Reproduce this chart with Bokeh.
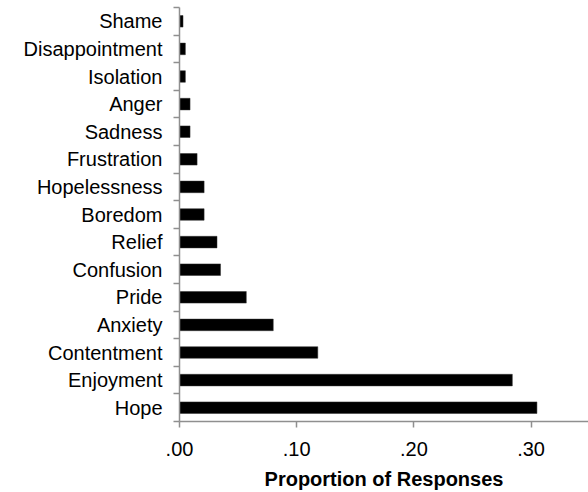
from bokeh.plotting import figure
from bokeh.models import ColumnDataSource, FixedTicker, CustomJSTickFormatter, Range1d
from bokeh.embed import file_html
from bokeh.resources import INLINE

# Data (bottom to top)
categories = ["Hope", "Enjoyment", "Contentment", "Anxiety", "Pride", "Confusion",
              "Relief", "Boredom", "Hopelessness", "Frustration", "Sadness", "Anger",
              "Isolation", "Disappointment", "Shame"]
values = [0.305, 0.284, 0.118, 0.080, 0.057, 0.035, 0.032, 0.021, 0.021, 0.015,
          0.009, 0.009, 0.005, 0.005, 0.003]
x_ticks = [0.0, 0.1, 0.2, 0.3]
x_title = "Proportion of Responses"

n = len(categories)
pos = list(range(1, n + 1))
source = ColumnDataSource(dict(y=pos, v=values, name=categories))

FONT = "Liberation Sans"
AXIS_COLOR = "#8f8f8f"

p = figure(width=588, height=492, frame_width=409, frame_height=414,
           x_range=Range1d(0, 0.349), y_range=Range1d(0.5, n + 0.5),
           output_backend="svg", toolbar_location=None,
           min_border_left=179, min_border_right=0, min_border_top=7,
           min_border_bottom=71)

p.hbar(y="y", right="v", left=0, height=0.42, source=source,
       fill_color="black", line_color="#333333", line_width=0.5)

p.outline_line_color = None
p.grid.visible = False
p.background_fill_color = "white"
p.border_fill_color = "white"

# Y axis: labels at band centres, tick marks at band boundaries
ya = p.yaxis[0]
ya.ticker = FixedTicker(ticks=pos, minor_ticks=[i + 0.5 for i in range(0, n + 1)])
ya.formatter = CustomJSTickFormatter(args=dict(names=categories),
                                     code="return names[Math.round(tick) - 1] || '';")
ya.major_tick_out = 0
ya.major_tick_in = 0
ya.minor_tick_out = 6
ya.minor_tick_in = 0
ya.minor_tick_line_color = AXIS_COLOR
ya.minor_tick_line_width = 1.5
ya.axis_line_color = AXIS_COLOR
ya.axis_line_width = 1.5
ya.major_label_standoff = 11
ya.major_label_text_font = FONT
ya.major_label_text_font_size = "20px"
ya.major_label_text_color = "black"

# X axis
xa = p.xaxis[0]
xa.ticker = FixedTicker(ticks=x_ticks)
xa.formatter = CustomJSTickFormatter(code="return tick.toFixed(2).replace(/^0/, '');")
xa.major_tick_out = 6
xa.major_tick_in = 0
xa.minor_tick_line_color = None
xa.major_tick_line_color = AXIS_COLOR
xa.major_tick_line_width = 1.5
xa.axis_line_color = AXIS_COLOR
xa.axis_line_width = 1.5
xa.major_label_standoff = 14
xa.major_label_text_font = FONT
xa.major_label_text_font_size = "20px"
xa.major_label_text_color = "black"
xa.axis_label = x_title
xa.axis_label_text_font = FONT
xa.axis_label_text_font_size = "20px"
xa.axis_label_text_font_style = "bold"
xa.axis_label_text_color = "black"
xa.axis_label_standoff = 9

open("out.html", "w").write(file_html(p, INLINE))
